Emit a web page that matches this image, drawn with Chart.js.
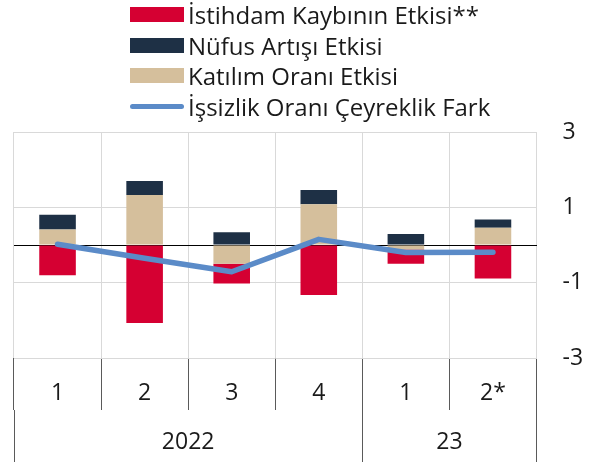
<!DOCTYPE html>
<html>
<head>
<meta charset="utf-8">
<script src="https://cdn.jsdelivr.net/npm/chart.js@4/dist/chart.umd.min.js"></script>
<style>
  html, body { margin:0; padding:0; background:#fff; }
  #wrap { position:relative; width:592px; height:465px; }
  #legend { position:absolute; left:130px; top:-1px; font-family:"Open Sans", sans-serif; font-size:24px; color:#1a1a1a; }
  .row { display:flex; align-items:center; height:30.7px; white-space:nowrap; }
  .sw { width:54px; height:15px; margin-right:4px; flex:none; }
  .sw.line { height:5.5px; border-radius:3px; }
</style>
</head>
<body>
<div id="wrap">
  <canvas id="c" width="592" height="465"></canvas>
  <div id="legend"></div>
</div>
<script>
// ---- data ----
const quarters = ['1', '2', '3', '4', '1', '2*'];
const yearLabels = ['2022', '23'];
const yearSpans = [4, 2];
const istihdam = [-0.80, -2.07, -0.52, -1.33, -0.38, -0.89];   // İstihdam Kaybının Etkisi**
const nufus    = [0.39, 0.37, 0.34, 0.38, 0.29, 0.22];         // Nüfus Artışı Etkisi
const katilim  = [0.41, 1.33, -0.50, 1.08, -0.12, 0.46];       // Katılım Oranı Etkisi
const issizlik = [0.02, -0.35, -0.71, 0.15, -0.20, -0.19];     // İşsizlik Oranı Çeyreklik Fark
const yTicks = [-3, -1, 0, 1, 3];

// ---- styles ----
const RED = '#d50032', NAVY = '#1e3045', TAN = '#d5bf9c', BLUE = '#5b8bc8';
const FONT = '"Open Sans", sans-serif';
const TXT = '#1a1a1a';
const TICK_SIZE = 23;

// year boundaries / centers on the category index axis
const yearBounds = [-0.5];
const yearCenters = [];
yearSpans.forEach(n => {
  const start = yearBounds[yearBounds.length - 1];
  yearCenters.push(start + n / 2);
  yearBounds.push(start + n);
});

const datasets = [
  { label: 'Katılım Oranı Etkisi', data: katilim, backgroundColor: TAN, stack: 's', order: 1 },
  { label: 'Nüfus Artışı Etkisi', data: nufus, backgroundColor: NAVY, stack: 's', order: 1 },
  { label: 'İstihdam Kaybının Etkisi**', data: istihdam, backgroundColor: RED, stack: 's', order: 1 },
  { type: 'line', label: 'İşsizlik Oranı Çeyreklik Fark', data: issizlik, borderColor: BLUE,
    backgroundColor: BLUE, borderWidth: 5.5, pointRadius: 0, stack: 'l', order: 0,
    borderCapStyle: 'round', borderJoinStyle: 'round', tension: 0, fill: false }
];

new Chart(document.getElementById('c'), {
  type: 'bar',
  data: { labels: quarters, datasets },
  options: {
    responsive: false, animation: false, devicePixelRatio: 1,
    layout: { padding: { left: 14, top: 132, right: 0, bottom: 0 } },
    plugins: { legend: { display: false }, tooltip: { enabled: false } },
    datasets: { bar: { barPercentage: 0.42, categoryPercentage: 1 } },
    scales: {
      x: {
        type: 'category', stacked: true, offset: true, weight: 0,
        grid: { offset: true, color: '#d9d9d9', tickColor: '#5a5a5a', tickLength: 52, lineWidth: 1 },
        border: { display: false },
        ticks: { padding: -30, font: { family: FONT, size: TICK_SIZE }, color: TXT, maxRotation: 0 },
        afterFit: s => { s.height = 52; }
      },
      x2: {
        type: 'linear', position: 'bottom', min: -0.5, max: 5.5, weight: 1,
        offset: false,
        afterBuildTicks: s => {
          s.ticks = yearBounds.concat(yearCenters).sort((a, b) => a - b).map(v => ({ value: v }));
        },
        grid: {
          offset: false, drawOnChartArea: false, tickLength: 52, lineWidth: 1,
          tickColor: c => (c.tick && yearBounds.includes(c.tick.value)) ? '#5a5a5a' : 'rgba(0,0,0,0)'
        },
        border: { display: false },
        ticks: {
          autoSkip: false, maxRotation: 0, padding: -33,
          font: { family: FONT, size: TICK_SIZE }, color: TXT,
          callback: v => { const i = yearCenters.indexOf(v); return i >= 0 ? yearLabels[i] : ''; }
        },
        afterFit: s => { s.height = 55; }
      },
      y: {
        position: 'right', stacked: true, min: -3, max: 3,
        afterBuildTicks: s => { s.ticks = yTicks.map(v => ({ value: v })); },
        grid: { color: c => (c.tick && c.tick.value === 0) ? '#000' : '#d9d9d9', drawTicks: false, lineWidth: 1 },
        border: { display: false },
        ticks: {
          padding: 26, font: { family: FONT, size: TICK_SIZE }, color: TXT,
          callback: v => v === 0 ? '' : String(v)
        },
        afterFit: s => { s.width = 55.5; }
      }
    }
  }
});

// HTML legend in the reference order
const legendOrder = [2, 1, 0, 3];
const leg = document.getElementById('legend');
legendOrder.forEach(i => {
  const d = datasets[i];
  const row = document.createElement('div');
  row.className = 'row';
  const sw = document.createElement('span');
  sw.className = 'sw' + (d.type === 'line' ? ' line' : '');
  sw.style.background = d.type === 'line' ? d.borderColor : d.backgroundColor;
  const t = document.createElement('span');
  t.textContent = d.label;
  row.appendChild(sw); row.appendChild(t);
  leg.appendChild(row);
});
</script>
</body>
</html>
